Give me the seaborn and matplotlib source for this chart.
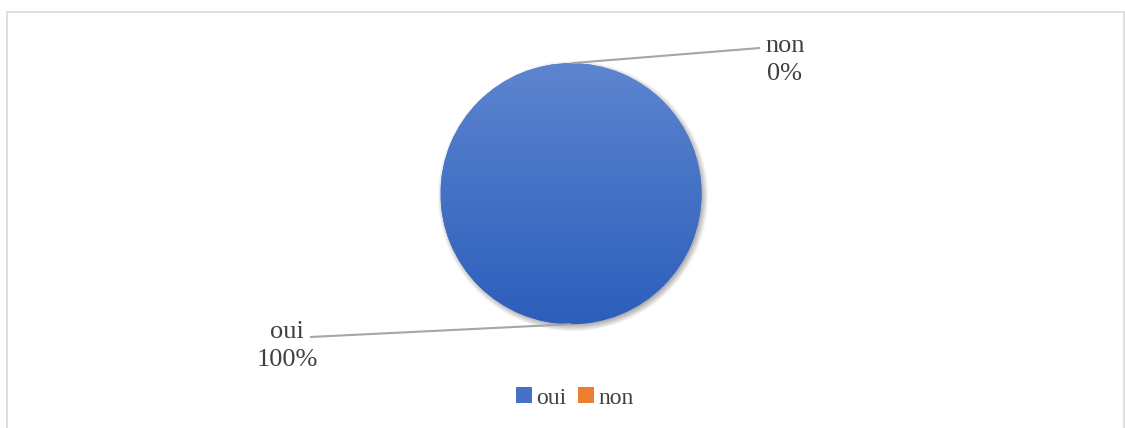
import numpy as np
import matplotlib
matplotlib.use("Agg")
import matplotlib.pyplot as plt
import matplotlib.patches as mpatches
import seaborn as sns

categories = ["oui", "non"]
values = [100, 0]
pct_labels = ["100%", "0%"]
colors = ["#4472c4", "#ed7d31"]

sns.set_theme(style="white")
plt.rcParams['font.family'] = ['Liberation Serif', 'DejaVu Serif']

W, H = 1125, 428
fig = plt.figure(figsize=(W / 100, H / 100), dpi=100)
ax = fig.add_axes([0, 0, 1, 1])
ax.set_xlim(0, W)
ax.set_ylim(0, H)
ax.set_aspect('equal')
ax.axis('off')

# chart border (Excel chart area)
ax.add_patch(mpatches.Rectangle((6.5, -10), 1117, H - 11.5 + 10, fill=False,
                                edgecolor="#d9d9d9", linewidth=1.2, zorder=0))

cx, cy, R = 571, H - 193.7, 130.5

# soft shadow
yy, xx = np.mgrid[0:H, 0:W]
d = np.hypot(xx - (cx + 1.5), yy - (cy - 3))
sh = np.clip((R + 5 - d) / 8, 0, 1) * 0.35
shadow = np.zeros((H, W, 4))
shadow[..., 3] = sh
ax.imshow(shadow, extent=(0, W, 0, H), origin='lower', zorder=1, interpolation='bilinear')

wedges, _ = ax.pie(values, colors=colors, startangle=90, counterclock=False,
                   center=(cx, cy), radius=R, frame=True,
                   wedgeprops=dict(linewidth=0))
ax.set_xlim(0, W)
ax.set_ylim(0, H)
ax.axis('off')

# vertical gradient on the oui slice
top = np.array([0x5d, 0x85, 0xcf]) / 255
bot = np.array([0x2c, 0x5e, 0xbb]) / 255
t = np.linspace(0, 1, 256)[:, None]
grad = (bot + (top - bot) * t)[:, None, :]
im = ax.imshow(grad, extent=(cx - R, cx + R, cy - R, cy + R), origin='lower',
               aspect='auto', zorder=3, interpolation='bilinear')
im.set_clip_path(wedges[0])

# labels with leader lines
label_pos = {"oui": (287, H - 346), "non": (785, H - 60)}
line_end = {"oui": (310, H - 337), "non": (760, H - 48)}
for w, cat, pct in zip(wedges, categories, pct_labels):
    mid = np.deg2rad((w.theta1 + w.theta2) / 2)
    ax_x = cx + R * np.cos(mid)
    ax_y = cy + R * np.sin(mid)
    ex, ey = line_end[cat]
    ax.plot([ax_x, ex], [ax_y, ey], color="#a6a6a6", linewidth=1.5, zorder=4,
            solid_capstyle='butt')
    lx, ly = label_pos[cat]
    ax.text(lx, ly, f"{cat}\n{pct}", ha='center', va='center', fontsize=19,
            color="#404040", linespacing=1.4, zorder=5)

handles = [mpatches.Patch(facecolor=c, edgecolor='none') for c in colors]
fig.legend(handles, categories, loc='center', bbox_to_anchor=(575 / W, 1 - 398 / H),
           ncol=2, frameon=False, fontsize=17, handlelength=0.65, handleheight=0.65,
           handletextpad=0.2, columnspacing=0.5, labelcolor="#404040")

fig.savefig("out.png", dpi=100)
